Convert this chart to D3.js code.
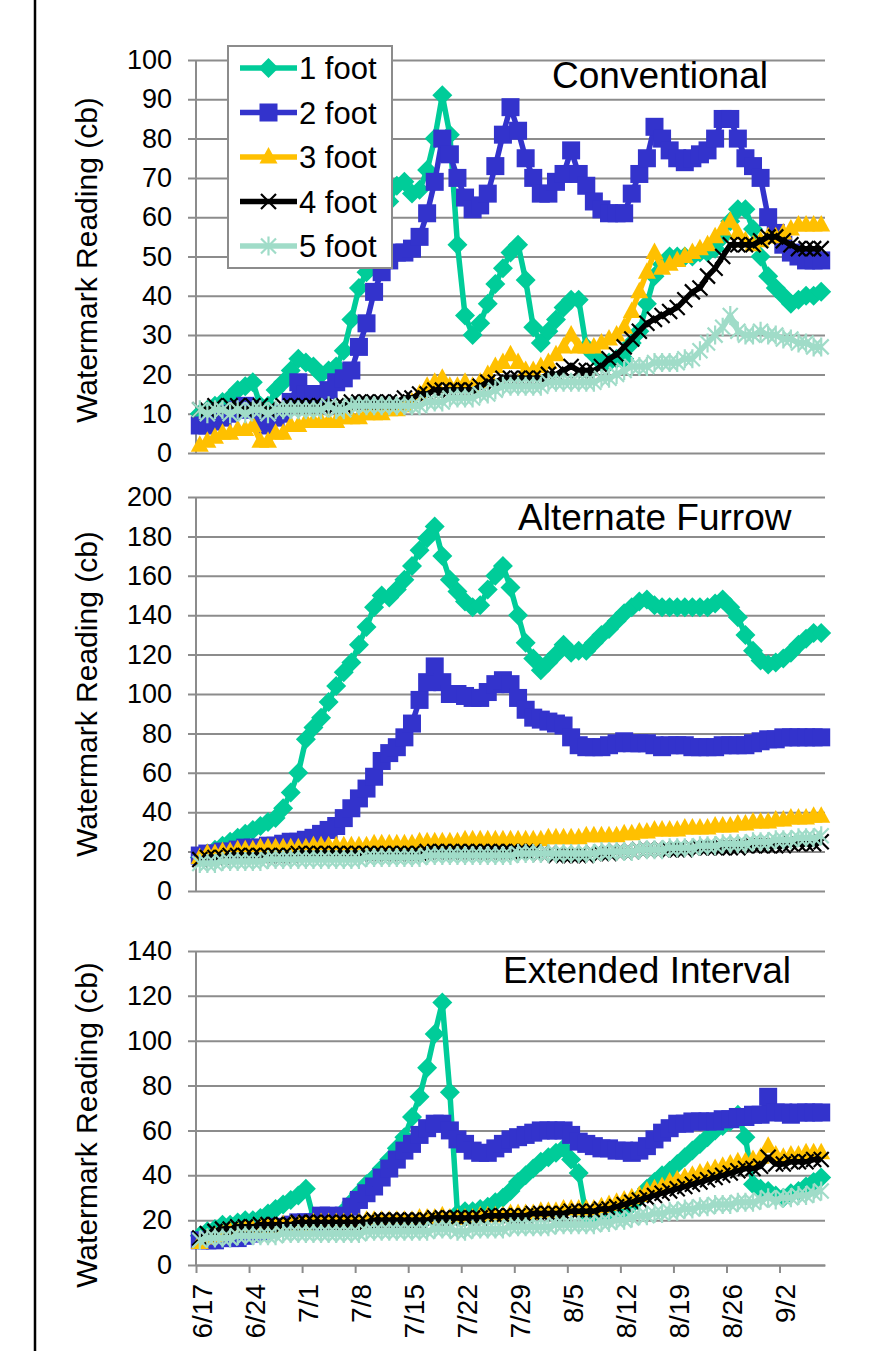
<!DOCTYPE html>
<html>
<head>
<meta charset="utf-8">
<script src="https://cdn.jsdelivr.net/npm/d3@7"></script>
<style>
  body { margin: 0; background: #fff; }
  svg { display: block; }
  text { font-family: Arial, "Liberation Sans", sans-serif; fill: #000; }
</style>
</head>
<body>
<svg id="chart" width="892" height="1351"></svg>
<script>
// ---- Data: daily Watermark readings (cb), first reading 6/17, one per day ----
const axisStart = "6/17";
const axisEnd = "9/8";
const tickLabels = ["6/17","6/24","7/1","7/8","7/15","7/22","7/29","8/5","8/12","8/19","8/26","9/2"];
const depthLabels = ["1 foot","2 foot","3 foot","4 foot","5 foot"];
const panelTitles = ["Conventional","Alternate Furrow","Extended Interval"];
const panelMax = [100, 200, 140];
const panelStep = [10, 20, 20];

const conv1 = [10,11,12,13,14,16,17,18,12,12,16,18,21,24,23,22,20,21,22,26,34,42,46,52,58,64,68,69,66,67,72,80,91,81,53,35,30,33,38,43,47,51,53,44,32,28,31,34,37,39,39,27,25,23,23,24,24,28,31,38,45,48,50,50,50,50,51,51,52,55,59,62,62,57,50,45,42,40,38,39,40,40,41];
const conv2 = [7,7,8,9,10,11,12,11,8,7,9,10,13,18,15,15,15,16,18,19,21,27,33,41,46,49,51,51,52,55,61,69,80,76,70,65,62,63,66,73,81,88,82,75,70,66,66,69,71,77,71,68,64,62,61,61,61,66,71,75,83,80,77,75,74,75,76,77,80,85,85,80,75,73,70,60,56,53,51,50,49,49,49];
const conv3 = [2,3,4,5,5,6,6,7,3,3,5,5,7,7,8,8,8,8,8,9,9,9,10,10,10,11,11,12,13,15,17,18,19,17,17,18,17,18,20,22,23,25,23,21,21,22,23,25,27,30,27,27,27,28,29,30,32,36,41,46,51,47,48,49,50,51,52,53,55,57,59,56,54,53,54,55,55,56,57,58,58,58,58];
const conv4 = [11,11,12,11,12,12,11,12,12,11,11,12,12,12,12,12,12,12,12,12,13,13,13,13,13,13,13,14,14,15,15,16,16,16,16,16,16,17,18,18,19,19,19,19,19,19,20,20,21,22,21,21,21,22,24,25,27,29,31,33,34,35,36,37,39,41,42,45,47,50,53,53,53,53,54,55,55,54,53,52,52,52,52];
const conv5 = [11,10,11,11,10,11,10,11,11,10,11,11,11,11,11,11,11,12,11,11,12,12,12,12,12,12,12,12,12,12,13,13,13,14,14,14,14,15,15,16,17,17,17,17,17,17,18,18,18,18,18,18,18,19,19,20,21,22,22,22,23,23,23,23,24,24,26,28,30,32,35,31,30,30,31,30,30,29,29,28,28,27,27];

const alt1 = [17,19,21,23,25,27,29,31,33,35,37,42,50,60,77,83,88,96,104,111,116,125,134,144,150,149,153,158,165,173,179,185,170,158,152,147,144,145,153,160,165,154,140,126,118,112,116,120,125,121,122,122,126,130,133,137,141,144,147,148,145,144,144,144,144,144,144,144,146,148,144,139,130,122,117,115,116,118,121,125,128,131,131];
const alt2 = [18,19,19,20,20,21,22,22,22,23,23,24,25,25,26,27,29,31,33,37,42,47,52,58,66,70,73,78,85,97,106,114,106,100,100,99,98,98,101,105,107,105,98,92,88,87,86,85,84,78,74,73,73,73,74,75,76,75,75,75,74,73,74,74,74,73,73,73,73,74,74,74,74,75,76,77,77,78,78,78,78,78,78];
const alt3 = [17,19,19,20,20,21,21,21,22,22,22,22,22,22,22,23,23,23,23,23,23,23,23,24,24,24,24,24,24,25,25,25,25,25,25,26,26,26,26,26,26,26,26,26,26,26,27,27,27,27,27,28,28,28,28,28,29,29,30,30,31,31,31,31,32,32,32,32,33,33,33,34,34,35,35,35,36,36,37,37,37,38,38];
const alt4 = [16,17,17,17,18,18,18,18,18,18,18,18,18,19,19,19,19,19,19,19,19,19,19,19,19,19,19,19,19,19,20,20,20,20,20,20,20,20,20,20,20,20,20,20,20,19,19,18,18,18,18,18,19,19,19,20,20,20,21,21,21,21,21,21,21,22,22,22,22,22,22,22,23,23,23,23,23,23,24,24,24,24,25];
const alt5 = [14,14,14,15,15,15,15,15,15,16,16,16,16,16,16,16,16,16,16,16,16,16,17,17,17,17,17,17,17,17,18,18,18,18,18,18,18,18,18,18,18,18,19,19,19,19,19,19,19,19,19,19,19,20,20,20,20,20,21,21,21,21,22,22,22,22,23,23,23,24,24,24,24,25,25,25,26,26,26,27,27,27,28];

const ext1 = [13,15,16,18,18,19,20,20,21,23,25,27,29,31,34,21,20,20,21,24,28,32,36,39,43,47,52,57,66,75,88,103,117,77,23,24,24,25,26,28,30,33,37,40,43,46,48,50,52,47,41,22,21,22,22,23,24,27,30,34,37,40,42,45,48,51,54,57,60,62,64,67,57,36,34,33,31,30,32,33,35,37,39];
const ext2 = [11,11,11,12,12,12,13,14,15,16,17,17,18,19,19,19,22,22,20,22,26,29,32,35,39,43,47,51,54,58,61,63,63,60,56,54,51,50,50,52,54,56,57,58,59,60,60,60,60,58,55,54,53,52,52,51,51,50,51,53,56,59,61,63,63,64,64,64,64,65,65,66,66,67,67,75,68,68,67,68,68,68,68];
const ext3 = [10,12,13,14,15,15,16,16,17,17,17,18,18,18,18,19,19,19,19,19,19,19,20,20,20,20,20,20,20,21,21,21,22,21,21,21,21,22,22,22,22,23,23,23,23,24,24,24,25,25,25,25,25,26,27,28,29,30,31,33,34,35,37,38,39,40,41,42,43,44,45,46,46,47,48,53,49,48,49,49,50,50,50];
const ext4 = [12,14,15,16,16,17,17,17,18,18,18,18,18,19,19,19,19,19,19,19,19,19,19,20,20,20,20,20,20,20,20,21,21,21,21,21,21,21,22,22,22,22,22,22,23,23,23,23,23,24,24,24,24,25,25,26,27,28,29,30,31,32,33,34,35,36,37,38,39,40,41,42,43,43,44,48,45,45,46,46,46,47,47];
const ext5 = [11,12,12,12,12,13,13,13,13,13,13,14,14,14,14,14,14,14,14,14,14,14,15,15,15,15,15,15,15,15,15,16,16,16,15,15,16,16,16,16,16,17,17,17,17,17,17,18,18,18,18,18,18,19,19,20,20,21,22,22,23,23,24,24,25,25,26,26,27,27,27,28,28,28,29,30,29,30,30,31,31,32,33];

// ---- Layout and styles ----
const W = 892, H = 1351;
const plotLeft = 196, plotRight = 825, gridLeft = 188;
const panels = [
  { title: panelTitles[0], max: panelMax[0], step: panelStep[0], top: 60,  bottom: 453,  labelY: 260,  titleX: 552, titleY: 88,  series: [conv1, conv2, conv3, conv4, conv5] },
  { title: panelTitles[1], max: panelMax[1], step: panelStep[1], top: 497, bottom: 891,  labelY: 694,  titleX: 518, titleY: 530, series: [alt1, alt2, alt3, alt4, alt5] },
  { title: panelTitles[2], max: panelMax[2], step: panelStep[2], top: 951, bottom: 1265, labelY: 1125, titleX: 503, titleY: 983, series: [ext1, ext2, ext3, ext4, ext5] }
];
const colors = ["#00CC99", "#3333CC", "#FFC000", "#000000", "#A0DCC8"];
const gridColor = "#8C8C8C";

const svg = d3.select("#chart");
svg.append("rect").attr("width", W).attr("height", H).attr("fill", "#fff");

// left border rule of the figure
svg.append("line").attr("x1", 35).attr("x2", 35).attr("y1", 0).attr("y2", H)
  .attr("stroke", "#000").attr("stroke-width", 2.5);

const parseMD = s => { const [m, d] = s.split("/").map(Number); return new Date(Date.UTC(2000, m - 1, d)); };
const t0 = parseMD(axisStart);
const x = d3.scaleUtc().domain([t0, parseMD(axisEnd)]).range([plotLeft, plotRight]);
// readings are logged mid-day
const readingTime = i => d3.utcHour.offset(d3.utcDay.offset(t0, i), 12);

// marker painters, one per depth
function drawMarker(g, k, cx, cy) {
  const c = colors[k];
  if (k === 0) {
    g.append("path").attr("d", `M${cx},${cy - 10}L${cx + 10},${cy}L${cx},${cy + 10}L${cx - 10},${cy}Z`).attr("fill", c);
  } else if (k === 1) {
    g.append("rect").attr("x", cx - 9).attr("y", cy - 9).attr("width", 18).attr("height", 18).attr("fill", c);
  } else if (k === 2) {
    g.append("path").attr("d", `M${cx},${cy - 10}L${cx + 9},${cy + 6.5}L${cx - 9},${cy + 6.5}Z`).attr("fill", c);
  } else if (k === 3) {
    g.append("path").attr("d", `M${cx - 7.5},${cy - 7.5}L${cx + 7.5},${cy + 7.5}M${cx - 7.5},${cy + 7.5}L${cx + 7.5},${cy - 7.5}`)
      .attr("stroke", c).attr("stroke-width", 2.2).attr("fill", "none");
  } else {
    g.append("path").attr("d", `M${cx - 7.5},${cy - 7.5}L${cx + 7.5},${cy + 7.5}M${cx - 7.5},${cy + 7.5}L${cx + 7.5},${cy - 7.5}M${cx},${cy - 9.5}L${cx},${cy + 9.5}`)
      .attr("stroke", c).attr("stroke-width", 2.2).attr("fill", "none");
  }
}

panels.forEach((p, pi) => {
  const y = d3.scaleLinear().domain([0, p.max]).range([p.bottom, p.top]);
  const g = svg.append("g");

  // value axis with gridlines
  const yAxis = d3.axisLeft(y)
    .tickValues(d3.range(0, p.max + 0.001, p.step))
    .tickSizeInner(-(plotRight - gridLeft))
    .tickSizeOuter(0)
    .tickPadding(16)
    .tickFormat(d3.format("d"));
  const ya = g.append("g").attr("transform", `translate(${gridLeft},0)`).call(yAxis);
  ya.select(".domain").remove();
  ya.selectAll(".tick line").attr("stroke", gridColor).attr("stroke-width", 2);
  ya.selectAll(".tick text").attr("font-size", 27).attr("fill", "#000")
    .style("font-family", "Arial, 'Liberation Sans', sans-serif");

  g.append("line").attr("x1", plotLeft).attr("x2", plotLeft).attr("y1", p.top).attr("y2", p.bottom)
    .attr("stroke", gridColor).attr("stroke-width", 2);

  // axis title
  g.append("text").attr("transform", `translate(97,${p.labelY}) rotate(-90)`)
    .attr("text-anchor", "middle").attr("font-size", 30).text("Watermark Reading (cb)");

  // panel title
  g.append("text").attr("x", p.titleX).attr("y", p.titleY).attr("font-size", 37).text(p.title);

  // series: line then markers, in depth order
  p.series.forEach((vals, k) => {
    const pts = vals.map((v, i) => ({ t: readingTime(i), v }));
    const line = d3.line().x(d => x(d.t)).y(d => y(d.v));
    g.append("path").datum(pts).attr("d", line).attr("fill", "none")
      .attr("stroke", colors[k]).attr("stroke-width", 5.5).attr("stroke-linejoin", "round");
    const mg = g.append("g");
    pts.forEach(d => drawMarker(mg, k, x(d.t), y(d.v)));
  });

  // date axis on the bottom panel
  if (pi === 2) {
    const xAxis = d3.axisBottom(x)
      .tickValues(tickLabels.map(parseMD))
      .tickSizeInner(8).tickSizeOuter(0)
      .tickFormat(d3.utcFormat("%-m/%-d"));
    const xa = g.append("g").attr("transform", `translate(0,${p.bottom})`).call(xAxis);
    xa.select(".domain").attr("stroke", gridColor).attr("stroke-width", 2);
    xa.selectAll(".tick line").attr("stroke", gridColor).attr("stroke-width", 2);
    xa.selectAll(".tick text")
      .attr("font-size", 28).attr("fill", "#000")
      .style("font-family", "Arial, 'Liberation Sans', sans-serif")
      .attr("text-anchor", "end").attr("dy", null)
      .attr("transform", "translate(15,19) rotate(-90)")
      .attr("x", 0).attr("y", 0);
  }
});

// legend
const legend = svg.append("g");
legend.append("rect").attr("x", 228).attr("y", 46).attr("width", 164).attr("height", 222)
  .attr("fill", "#fff").attr("stroke", gridColor).attr("stroke-width", 2);
depthLabels.forEach((lab, k) => {
  const ly = 68 + k * 44.5;
  legend.append("line").attr("x1", 240).attr("x2", 297).attr("y1", ly).attr("y2", ly)
    .attr("stroke", colors[k]).attr("stroke-width", 5.5);
  drawMarker(legend, k, 268.5, ly);
  legend.append("text").attr("x", 299).attr("y", ly + 11).attr("font-size", 31).text(lab);
});
</script>
</body>
</html>
